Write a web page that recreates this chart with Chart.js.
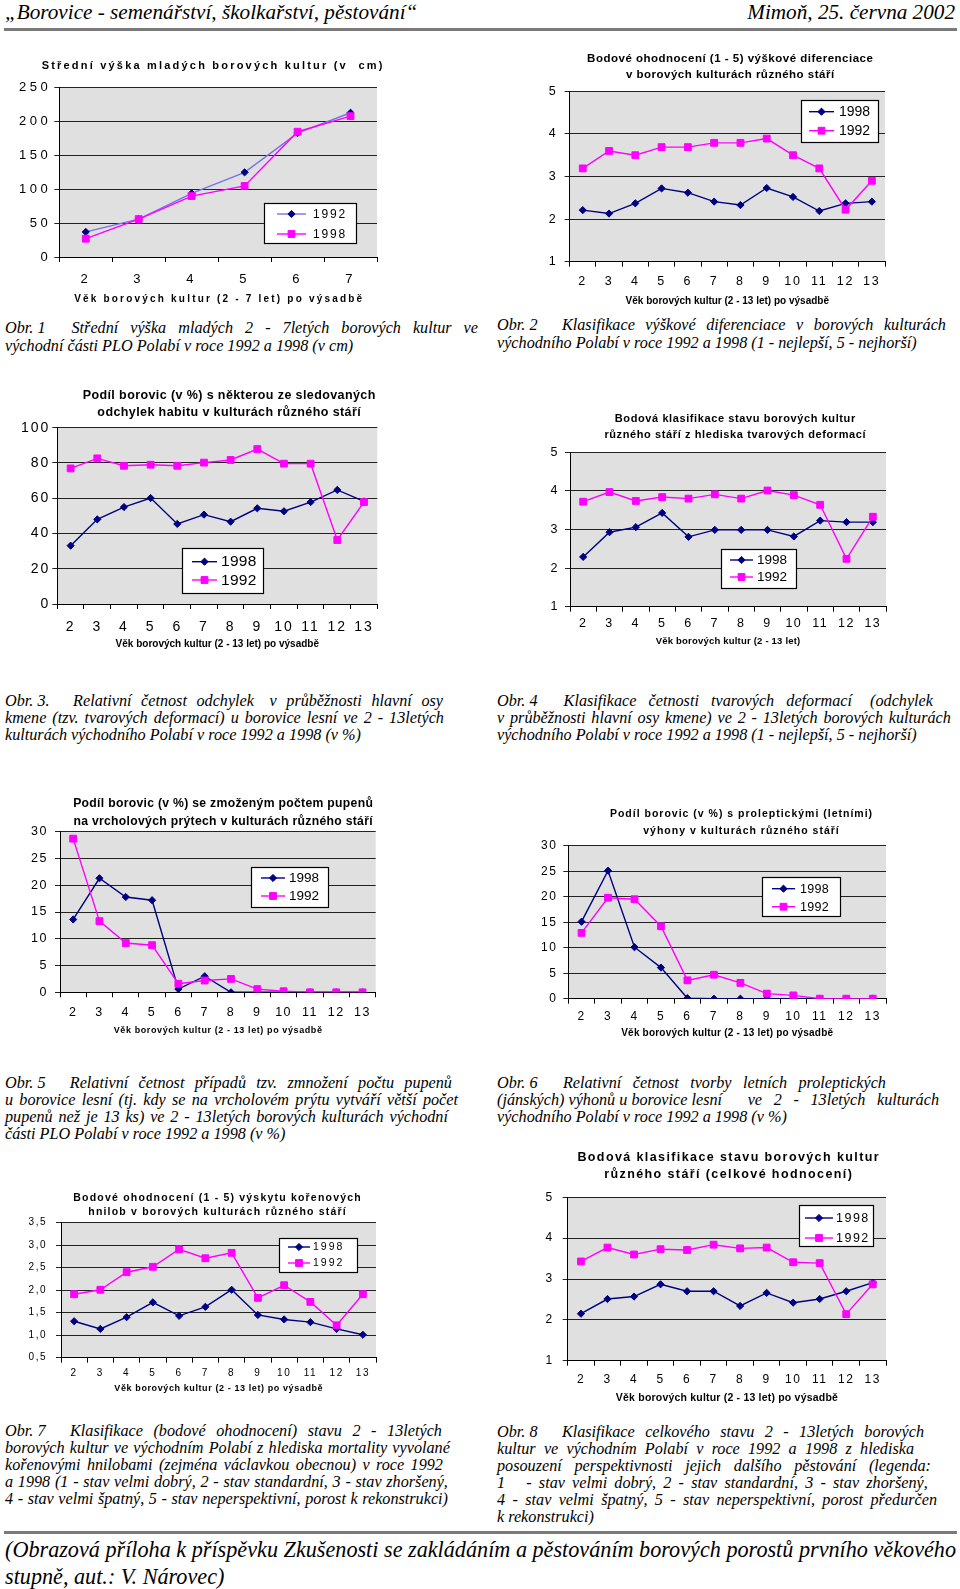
<!DOCTYPE html>
<html><head><meta charset="utf-8">
<script src="https://cdn.jsdelivr.net/npm/chart.js@4.4.1/dist/chart.umd.min.js"></script>
<style>
html,body{margin:0;padding:0;background:#fff;}
body{width:960px;height:1589px;overflow:hidden;position:relative;}
canvas{position:absolute;}
.serif{position:absolute;font-family:"Liberation Serif","Times New Roman",serif;font-style:italic;color:#000;white-space:pre;}
.cap{position:absolute;font-family:"Liberation Serif","Times New Roman",serif;font-style:italic;font-size:16.2px;color:#000;white-space:pre;}
.cap .j{display:flex;justify-content:space-between;}
.rule{position:absolute;background:#7a7a7a;}
</style></head>
<body>
<div class="serif" style="left:5px;top:0px;font-size:21.2px;line-height:25px;">„Borovice - semenářství, školkařství, pěstování“</div>
<div class="serif" style="right:5px;top:0px;font-size:21.2px;line-height:25px;">Mimoň, 25. června 2002</div>
<div class="rule" style="left:4px;top:28px;width:953px;height:3px;"></div>
<div class="rule" style="left:4px;top:1531px;width:953px;height:3px;"></div>
<div class="serif" style="left:5px;top:1536px;font-size:22.2px;line-height:27px;">(Obrazová příloha k příspěvku Zkušenosti se zakládáním a pěstováním borových porostů prvního věkového
stupně, aut.: V. Nárovec)</div>

<script>
// ---------------- DATA ----------------
const ages7 = ['2','3','4','5','6','7'];
const ages13 = ['2','3','4','5','6','7','8','9','10','11','12','13'];
const yearA = '1998';
const yearB = '1992';

// Obr. 1 – mean height (cm)
const height1992 = [37, 56, 94, 125, 183, 213];
const height1998 = [27, 56, 90, 105, 185, 208];

// Obr. 2 – height differentiation score (1-5)
const diff1998 = [2.21, 2.13, 2.37, 2.72, 2.62, 2.41, 2.33, 2.73, 2.52, 2.19, 2.37, 2.41];
const diff1992 = [3.19, 3.60, 3.50, 3.69, 3.69, 3.79, 3.79, 3.89, 3.50, 3.19, 2.22, 2.90];

// Obr. 3 – share of pines with habit deviations (%)
const habit1998 = [33.1, 48.0, 55.0, 60.1, 45.4, 50.7, 46.7, 54.3, 52.6, 57.8, 64.7, 58.2];
const habit1992 = [76.9, 82.6, 78.4, 79.0, 78.4, 80.2, 81.7, 87.9, 79.6, 79.6, 36.3, 57.8];

// Obr. 4 – stem form deformation score (1-5)
const deform1998 = [2.29, 2.93, 3.06, 3.43, 2.81, 2.99, 2.99, 2.99, 2.82, 3.23, 3.19, 3.19];
const deform1992 = [3.72, 3.97, 3.74, 3.84, 3.80, 3.91, 3.80, 4.01, 3.89, 3.64, 2.24, 3.33];

// Obr. 5 – multiplied buds (%)
const buds1998 = [13.6, 21.3, 17.8, 17.2, 0.6, 3.0, 0, 0, 0, 0, 0, 0];
const buds1992 = [28.7, 13.3, 9.2, 8.8, 1.6, 2.2, 2.5, 0.6, 0.2, 0, 0, 0];

// Obr. 6 – proleptic (lammas) shoots (%)
const lammas1998 = [15.1, 25.1, 10.1, 6.1, 0.1, 0, 0, 0, 0, 0, 0, 0];
const lammas1992 = [12.9, 19.8, 19.5, 14.2, 3.6, 4.7, 3.1, 1.0, 0.65, 0, 0, 0];

// Obr. 7 – root rot score
const rot1998 = [1.31, 1.14, 1.40, 1.73, 1.43, 1.63, 2.01, 1.45, 1.35, 1.29, 1.14, 1.01];
const rot1992 = [1.91, 2.01, 2.40, 2.52, 2.91, 2.71, 2.83, 1.83, 2.11, 1.74, 1.22, 1.91];

// Obr. 8 – overall condition score
const total1998 = [2.15, 2.51, 2.57, 2.87, 2.70, 2.70, 2.34, 2.66, 2.42, 2.51, 2.70, 2.91];
const total1992 = [3.43, 3.77, 3.60, 3.73, 3.71, 3.84, 3.75, 3.77, 3.41, 3.39, 2.14, 2.87];

// titles
const title1 = ['Střední výška mladých borových kultur (v  cm)'];
const title2 = ['Bodové ohodnocení (1 - 5) výškové diferenciace', 'v borových kulturách různého stáří'];
const title3 = ['Podíl borovic (v %) s některou ze sledovaných', 'odchylek habitu v kulturách různého stáří'];
const title4 = ['Bodová klasifikace stavu borových kultur', 'různého stáří z hlediska tvarových deformací'];
const title5 = ['Podíl borovic (v %) se zmoženým počtem pupenů', 'na vrcholových prýtech v kulturách různého stáří'];
const title6 = ['Podíl borovic (v %) s proleptickými (letními)', 'výhony v kulturách různého stáří'];
const title7 = ['Bodové ohodnocení (1 - 5) výskytu kořenových', 'hnilob v borových kulturách různého stáří'];
const title8 = ['Bodová klasifikace stavu borových kultur', 'různého stáří (celkové hodnocení)'];
const xTitle7 = 'Věk borových kultur (2 - 7 let) po výsadbě';
const xTitle13 = 'Věk borových kultur (2 - 13 let) po výsadbě';
const xTitle13short = 'Věk borových kultur (2 - 13 let)';

// ---------------- STYLE / LAYOUT ----------------
const FONT = '"Liberation Sans", Arial, Helvetica, sans-serif';
const NAVY = '#000080', MAG = '#ff00ff', LIGHT = '#7474ea';
const PLOT_BG = '#e0e0e0';

function setLS(ctx, v){ if ('letterSpacing' in ctx) ctx.letterSpacing = (v || 0) + 'px'; }
function drawMarker(ctx, style, r, x, y){
  if (Chart.helpers && Chart.helpers.drawPoint){
    Chart.helpers.drawPoint(ctx, {pointStyle: style, radius: r, rotation: 0, borderWidth: 1}, x, y);
    return;
  }
  ctx.beginPath();
  if (style === 'rect'){ const h = r * Math.SQRT1_2; ctx.rect(x-h, y-h, 2*h, 2*h); }
  else { ctx.moveTo(x-r, y); ctx.lineTo(x, y-r); ctx.lineTo(x+r, y); ctx.lineTo(x, y+r); ctx.closePath(); }
  ctx.fill(); ctx.stroke();
}
function series(label, data, color, lineColor, style, order){
  const r = style === 'rect' ? 4.8 : 3.6;
  return {label, data, borderColor: lineColor, backgroundColor: color,
    pointBackgroundColor: color, pointBorderColor: color, pointStyle: style,
    pointRadius: r, pointHoverRadius: r, pointBorderWidth: 1, borderWidth: 1.4,
    tension: 0, fill: false, order};
}

const specs = [
 {box:[0,50,424,262], plot:{t:87.7,l:59.3,r:377,b:257}, labels: ages7,
  sets:[series(yearB, height1992, NAVY, LIGHT, 'rectRot', 1), series(yearA, height1998, MAG, MAG, 'rect', 0)],
  y:{min:0,max:250,step:50}, title:{text:title1,y:[65.7],size:11,ls:2.2},
  xt:{text:xTitle7,y:299,size:10,ls:2.2}, tick:{size:13,ls:3.5,ypad:3,xoff:22},
  legend:{x:264,y:203,w:92,h:40,rows:[214,234],lx0:277,lx1:306,tx:313,size:12,ls:1.8}},
 {box:[500,40,460,272], plot:{t:91.3,l:569.6,r:885,b:261.7}, labels: ages13,
  sets:[series(yearA, diff1998, NAVY, NAVY, 'rectRot', 1), series(yearB, diff1992, MAG, MAG, 'rect', 0)],
  y:{min:1,max:5,step:1}, title:{text:title2,y:[59,75],size:11.5,ls:0.5},
  xt:{text:xTitle13,y:301.6,size:10,ls:0}, tick:{size:12.5,ls:1.8,ypad:7,xoff:18.8},
  legend:{x:801,y:100,w:77,h:42,rows:[111.7,130.7],lx0:809,lx1:834,tx:839,size:14,ls:0}},
 {box:[0,380,458,275], plot:{t:427.7,l:57.3,r:377.3,b:604}, labels: ages13,
  sets:[series(yearA, habit1998, NAVY, NAVY, 'rectRot', 1), series(yearB, habit1992, MAG, MAG, 'rect', 0)],
  y:{min:0,max:100,step:20}, title:{text:title3,y:[396,413],size:12.5,ls:0.4},
  xt:{text:xTitle13,y:644,size:10,ls:0}, tick:{size:14,ls:2,ypad:2,xoff:22.2},
  legend:{x:182,y:548,w:81,h:45,rows:[561.7,580],lx0:192,lx1:217,tx:221,size:15.5,ls:0.3}},
 {box:[510,400,450,254], plot:{t:452.3,l:570,r:886,b:606.7}, labels: ages13,
  sets:[series(yearA, deform1998, NAVY, NAVY, 'rectRot', 1), series(yearB, deform1992, MAG, MAG, 'rect', 0)],
  y:{min:1,max:5,step:1}, title:{text:title4,y:[419,434.7],size:11,ls:0.6},
  xt:{text:xTitle13short,y:641,size:9.5,ls:0.2}, tick:{size:12.5,ls:1.5,ypad:6,xoff:16},
  legend:{x:721,y:549,w:75,h:39,rows:[560,577],lx0:730,lx1:753,tx:757,size:13.5,ls:0}},
 {box:[0,780,446,262], plot:{t:831.7,l:60,r:375.7,b:992.3}, labels: ages13,
  sets:[series(yearA, buds1998, NAVY, NAVY, 'rectRot', 1), series(yearB, buds1992, MAG, MAG, 'rect', 0)],
  y:{min:0,max:30,step:5}, title:{text:title5,y:[804,822],size:12.2,ls:0.3},
  xt:{text:xTitle13,y:1031,size:9,ls:0.6}, tick:{size:12.5,ls:1.5,ypad:7,xoff:19.7},
  legend:{x:251,y:867,w:77,h:40,rows:[878,896],lx0:261,lx1:285,tx:289,size:13.5,ls:0}},
 {box:[522,790,438,256], plot:{t:845.7,l:568.3,r:886,b:998.7}, labels: ages13,
  sets:[series(yearA, lammas1998, NAVY, NAVY, 'rectRot', 1), series(yearB, lammas1992, MAG, MAG, 'rect', 0)],
  y:{min:0,max:30,step:5}, title:{text:title6,y:[814,831],size:10.5,ls:1.0},
  xt:{text:xTitle13,y:1033,size:10,ls:0.2}, tick:{size:12,ls:1.5,ypad:6,xoff:17},
  legend:{x:762,y:877,w:78,h:39,rows:[888.7,906.7],lx0:772,lx1:795,tx:800,size:12.5,ls:0.3}},
 {box:[0,1170,434,230], plot:{t:1222.7,l:61,r:376,b:1357.7}, labels: ages13,
  sets:[series(yearA, rot1998, NAVY, NAVY, 'rectRot', 1), series(yearB, rot1992, MAG, MAG, 'rect', 0)],
  y:{min:0.5,max:3.5,step:0.5,comma:true}, title:{text:title7,y:[1197.7,1212.3],size:10.5,ls:1.2},
  xt:{text:xTitle13,y:1389,size:9,ls:0.6}, tick:{size:10,ls:1.5,ypad:9,xoff:15.3},
  legend:{x:279,y:1238,w:78,h:34,rows:[1247,1263],lx0:288,lx1:310,tx:313,size:10.5,ls:2}},
 {box:[496,1130,464,282], plot:{t:1197.3,l:567.7,r:886,b:1360.7}, labels: ages13,
  sets:[series(yearA, total1998, NAVY, NAVY, 'rectRot', 1), series(yearB, total1992, MAG, MAG, 'rect', 0)],
  y:{min:1,max:5,step:1}, title:{text:title8,y:[1158,1175],size:12.5,ls:1.4},
  xt:{text:xTitle13,y:1398,size:10.5,ls:0.2}, tick:{size:12,ls:1.5,ypad:9,xoff:18.3},
  legend:{x:799,y:1205,w:74,h:41,rows:[1218,1238],lx0:805,lx1:833,tx:836,size:12.5,ls:1.5}}
];

function makeDecor(s, i){
  const rx = v => v - s.box[0], ry = v => v - s.box[1];
  return {
    id: 'decor' + i,
    beforeUpdate(chart){ setLS(chart.ctx, s.tick.ls); },
    beforeDraw(chart){
      const ctx = chart.ctx, a = chart.chartArea;
      ctx.save(); ctx.fillStyle = PLOT_BG;
      ctx.fillRect(a.left, a.top, a.right - a.left, a.bottom - a.top);
      ctx.restore();
      setLS(ctx, s.tick.ls);
    },
    afterDraw(chart){
      const ctx = chart.ctx, a = chart.chartArea;
      ctx.save();
      ctx.fillStyle = '#000'; ctx.textAlign = 'center'; ctx.textBaseline = 'middle';
      setLS(ctx, s.title.ls);
      ctx.font = `bold ${s.title.size}px ${FONT}`;
      s.title.text.forEach((t, k) => ctx.fillText(t, chart.width / 2 + s.title.ls / 2, ry(s.title.y[k])));
      setLS(ctx, s.xt.ls);
      ctx.font = `bold ${s.xt.size}px ${FONT}`;
      ctx.fillText(s.xt.text, (a.left + a.right) / 2 + s.xt.ls / 2, ry(s.xt.y));
      // legend box inside plot
      const L = s.legend;
      const lx = Math.round(rx(L.x)), ly = Math.round(ry(L.y));
      ctx.fillStyle = '#fff'; ctx.fillRect(lx, ly, L.w, L.h);
      ctx.strokeStyle = '#000'; ctx.lineWidth = 1.2; ctx.strokeRect(lx + 0.5, ly + 0.5, L.w, L.h);
      setLS(ctx, L.ls);
      ctx.font = `${L.size}px ${FONT}`;
      ctx.textAlign = 'left';
      chart.data.datasets.forEach((d, k) => {
        const y = ry(L.rows[k]);
        ctx.strokeStyle = d.borderColor; ctx.lineWidth = d.borderWidth;
        ctx.beginPath(); ctx.moveTo(rx(L.lx0), y); ctx.lineTo(rx(L.lx1), y); ctx.stroke();
        ctx.fillStyle = d.pointBackgroundColor; ctx.strokeStyle = d.pointBorderColor; ctx.lineWidth = 1;
        drawMarker(ctx, d.pointStyle, d.pointRadius, (rx(L.lx0) + rx(L.lx1)) / 2, y);
        ctx.fillStyle = '#000';
        ctx.fillText(d.label, rx(L.tx), y + 0.5);
      });
      ctx.restore();
    }
  };
}

specs.forEach((s, i) => {
  const cv = document.createElement('canvas');
  cv.width = s.box[2]; cv.height = s.box[3];
  cv.style.left = s.box[0] + 'px'; cv.style.top = s.box[1] + 'px';
  cv.style.width = s.box[2] + 'px'; cv.style.height = s.box[3] + 'px';
  document.body.appendChild(cv);
  const yW = s.plot.l - s.box[0];
  const xH = s.box[1] + s.box[3] - s.plot.b;
  const padTop = s.plot.t - s.box[1];
  const padRight = s.box[0] + s.box[2] - s.plot.r;
  const xPad = Math.max(0, s.tick.xoff - 5 - s.tick.size * 0.55);
  new Chart(cv, {
    type: 'line',
    data: {labels: s.labels, datasets: s.sets},
    options: {
      responsive: false, animation: false, devicePixelRatio: 1,
      layout: {padding: {top: padTop, right: padRight, left: 0, bottom: 0}},
      plugins: {legend: {display: false}, title: {display: false}, tooltip: {enabled: false}},
      scales: {
        x: {
          type: 'category', offset: true,
          grid: {display: true, drawOnChartArea: false, drawTicks: true, tickLength: 5, offset: true, color: '#000', lineWidth: 1},
          border: {display: true, color: '#000', width: 1},
          ticks: {color: '#000', font: {family: FONT, size: s.tick.size}, padding: xPad, autoSkip: false, maxRotation: 0, minRotation: 0},
          afterFit(sc){ sc.height = xH; }
        },
        y: {
          min: s.y.min, max: s.y.max,
          grid: {color: '#222', lineWidth: 1, drawTicks: true, tickLength: 5},
          border: {display: true, color: '#000', width: 1},
          ticks: {stepSize: s.y.step, color: '#000', font: {family: FONT, size: s.tick.size}, padding: s.tick.ypad,
            callback: v => s.y.comma ? Number(v).toFixed(1).replace('.', ',') : String(v)},
          afterFit(sc){ sc.width = yW; }
        }
      }
    },
    plugins: [makeDecor(s, i)]
  });
});

// ---------------- CAPTIONS ----------------
const captions = [
 {x:5, y:320, lh:17.5, lines:[
  ['Obr. 1    Střední výška mladých 2 - 7letých borových kultur ve', 473],
  ['východní části PLO Polabí v roce 1992 a 1998 (v cm)', 0]]},
 {x:497, y:317, lh:17.5, lines:[
  ['Obr. 2    Klasifikace výškové diferenciace v borových kulturách', 449],
  ['východního Polabí v roce 1992 a 1998 (1 - nejlepší, 5 - nejhorší)', 0]]},
 {x:5, y:693, lh:17, lines:[
  ['Obr. 3.    Relativní četnost odchylek  v průběžnosti hlavní osy', 438],
  ['kmene (tzv. tvarových deformací) u borovice lesní ve 2 - 13letých', 439],
  ['kulturách východního Polabí v roce 1992 a 1998 (v %)', 0]]},
 {x:497, y:693, lh:17, lines:[
  ['Obr. 4    Klasifikace četnosti tvarových deformací  (odchylek', 436],
  ['v průběžnosti hlavní osy kmene) ve 2 - 13letých borových kulturách', 454],
  ['východního Polabí v roce 1992 a 1998 (1 - nejlepší, 5 - nejhorší)', 0]]},
 {x:5, y:1075, lh:17, lines:[
  ['Obr. 5    Relativní četnost případů tzv. zmnožení počtu pupenů', 447],
  ['u borovice lesní (tj. kdy se na vrcholovém prýtu vytváří větší počet', 453],
  ['pupenů než je 13 ks) ve 2 - 13letých borových kulturách východní', 443],
  ['části PLO Polabí v roce 1992 a 1998 (v %)', 0]]},
 {x:497, y:1075, lh:17, lines:[
  ['Obr. 6    Relativní četnost tvorby letních proleptických', 389],
  ['(jánských) výhonů u borovice lesní  ve 2 - 13letých kulturách', 442],
  ['východního Polabí v roce 1992 a 1998 (v %)', 0]]},
 {x:5, y:1423, lh:17, lines:[
  ['Obr. 7    Klasifikace (bodové ohodnocení) stavu 2 - 13letých', 437],
  ['borových kultur ve východním Polabí z hlediska mortality vyvolané', 445],
  ['kořenovými hnilobami (zejména václavkou obecnou) v roce 1992', 438],
  ['a 1998 (1 - stav velmi dobrý, 2 - stav standardní, 3 - stav zhoršený,', 443],
  ['4 - stav velmi špatný, 5 - stav neperspektivní, porost k rekonstrukci)', 443]]},
 {x:497, y:1424, lh:17, lines:[
  ['Obr. 8    Klasifikace celkového stavu 2 - 13letých borových', 427],
  ['kultur ve východním Polabí v roce 1992 a 1998 z hlediska', 417],
  ['posouzení perspektivnosti jejich dalšího pěstování (legenda:', 434],
  ['1  - stav velmi dobrý, 2 - stav standardní, 3 - stav zhoršený,', 431],
  ['4 - stav velmi špatný, 5 - stav neperspektivní, porost předurčen', 440],
  ['k rekonstrukci)', 0]]}
];
captions.forEach(c => {
  const box = document.createElement('div');
  box.className = 'cap';
  box.style.left = c.x + 'px'; box.style.top = c.y + 'px'; box.style.lineHeight = c.lh + 'px';
  c.lines.forEach(([t, w]) => {
    const d = document.createElement('div');
    if (w) {
      d.className = 'j'; d.style.width = w + 'px';
      const segs = t.split(/ {2,}/);
      segs.forEach((sg, si) => {
        const words = (si === 0 && segs.length > 1) ? [sg] : sg.split(' ');
        words.forEach((wd, k) => {
          const sp = document.createElement('span');
          sp.textContent = wd;
          if (si < segs.length - 1 && k === words.length - 1) sp.style.marginRight = (si === 0 ? 14 : 6) + 'px';
          d.appendChild(sp);
        });
      });
    } else {
      d.textContent = t;
    }
    box.appendChild(d);
  });
  document.body.appendChild(box);
});
</script>
</body></html>
